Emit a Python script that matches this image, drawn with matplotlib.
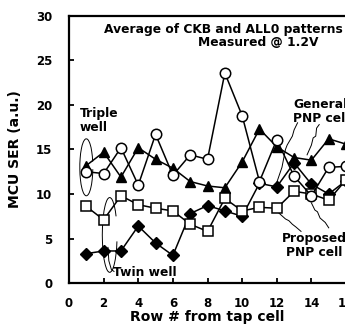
import matplotlib
matplotlib.use('Agg')
import matplotlib.pyplot as plt
from matplotlib.patches import Arc

plt.rcParams['font.family'] = 'DejaVu Sans'
plt.rcParams['font.weight'] = 'bold'

rows = list(range(1, 17))
# triple well / proposed PNP cell (open circles)
triple_proposed = [12.5, 12.3, 15.2, 11.0, 16.7, 12.1, 14.4, 13.9, 23.6, 18.8, 11.4, 16.1, 12.0, 9.8, 13.0, 13.1]
# triple well / general PNP cell (filled triangles)
triple_general = [13.2, 14.7, 11.9, 15.2, 13.9, 12.9, 11.4, 10.9, 10.7, 13.6, 17.3, 15.3, 14.1, 13.8, 16.2, 15.6]
# twin well / proposed PNP cell (open squares)
twin_proposed = [8.6, 7.1, 9.8, 8.8, 8.4, 8.1, 6.6, 5.8, 9.5, 8.1, 8.5, 8.4, 10.3, 10.0, 9.3, 11.6]
# twin well / general PNP cell (filled diamonds)
twin_general = [3.3, 3.6, 3.6, 6.4, 4.5, 3.1, 7.8, 8.7, 8.1, 7.5, 11.2, 10.8, 13.5, 11.1, 10.0, 11.5]

xticks = list(range(0, 17, 2))
yticks = list(range(0, 31, 5))

fig = plt.figure(figsize=(3.45, 3.29), dpi=100)
# axes run a little past the right edge, like the cropped original
ax = fig.add_axes([0.2, 0.1398, 0.803, 0.8116])

lw = 1.1
ax.plot(rows, triple_general, '-^', color='k', lw=lw, ms=7.5, mfc='k', mec='k', zorder=2)
ax.plot(rows, twin_general, '-D', color='k', lw=lw, ms=6, mfc='k', mec='k', zorder=3)
ax.plot(rows, twin_proposed, '-s', color='k', lw=lw, ms=6.5, mfc='white', mec='k', mew=1.1, zorder=4)
ax.plot(rows, triple_proposed, '-o', color='k', lw=lw, ms=7.5, mfc='white', mec='k', mew=1.1, zorder=5)

ax.set_xlim(0, 16)
ax.set_ylim(0, 30)
ax.set_xticks(xticks)
ax.set_yticks(yticks)
ax.tick_params(direction='in', length=3.5, width=1.3, labelsize=8.5)
ax.tick_params(axis='x', pad=10)
ax.tick_params(axis='y', pad=12)
for s in ax.spines.values():
    s.set_linewidth(1.6)
ax.set_xlabel('Row # from tap cell', fontsize=10, fontweight='bold', labelpad=0)
ax.set_ylabel('MCU SER (a.u.)', fontsize=10, fontweight='bold', labelpad=10)

ax.text(2.0, 28.5, 'Average of CKB and ALL0 patterns', fontsize=8.8, va='center', ha='left')
ax.text(7.45, 27.0, 'Measured @ 1.2V', fontsize=8.8, va='center', ha='left')

ax.text(0.62, 18.3, 'Triple\nwell', fontsize=8.8, va='center', ha='left', linespacing=1.1)
ax.text(2.55, 1.2, 'Twin well', fontsize=8.8, va='center', ha='left')
ax.text(12.95, 19.3, 'General\nPNP cell', fontsize=8.8, va='center', ha='left', linespacing=1.1)
ax.text(14.15, 4.2, 'Proposed\nPNP cell', fontsize=8.8, va='center', ha='center', linespacing=1.1)

# leader loops and squiggles
ax.add_patch(Arc((1.0, 13.0), 0.75, 6.4, angle=0, theta1=60, theta2=330, lw=0.7, color='k'))
ax.add_patch(Arc((2.35, 5.4), 0.85, 8.4, angle=0, theta1=80, theta2=300, lw=0.7, color='k'))
ax.plot([2.6, 2.45, 2.3, 2.25], [1.3, 1.5, 2.5, 4.0], color='k', lw=0.7)
ax.plot([12.0, 12.3, 12.5, 12.6, 12.9, 13.0, 13.2], [11.3, 13.0, 15.0, 15.5, 16.5, 17.2, 18.0], color='k', lw=0.7)
ax.plot([13.75, 14.0, 14.1, 14.25, 14.3, 14.45], [14.4, 15.5, 16.3, 16.5, 17.4, 17.8], color='k', lw=0.7)
ax.plot([12.1, 12.5, 12.7, 12.9, 13.1, 13.4], [7.9, 7.2, 7.0, 6.6, 6.3, 5.8], color='k', lw=0.7)
ax.plot([14.0, 14.2, 14.35, 14.5, 14.8, 15.0], [9.0, 8.2, 8.0, 7.3, 6.8, 6.2], color='k', lw=0.7)

fig.savefig('out.png', dpi=100)
